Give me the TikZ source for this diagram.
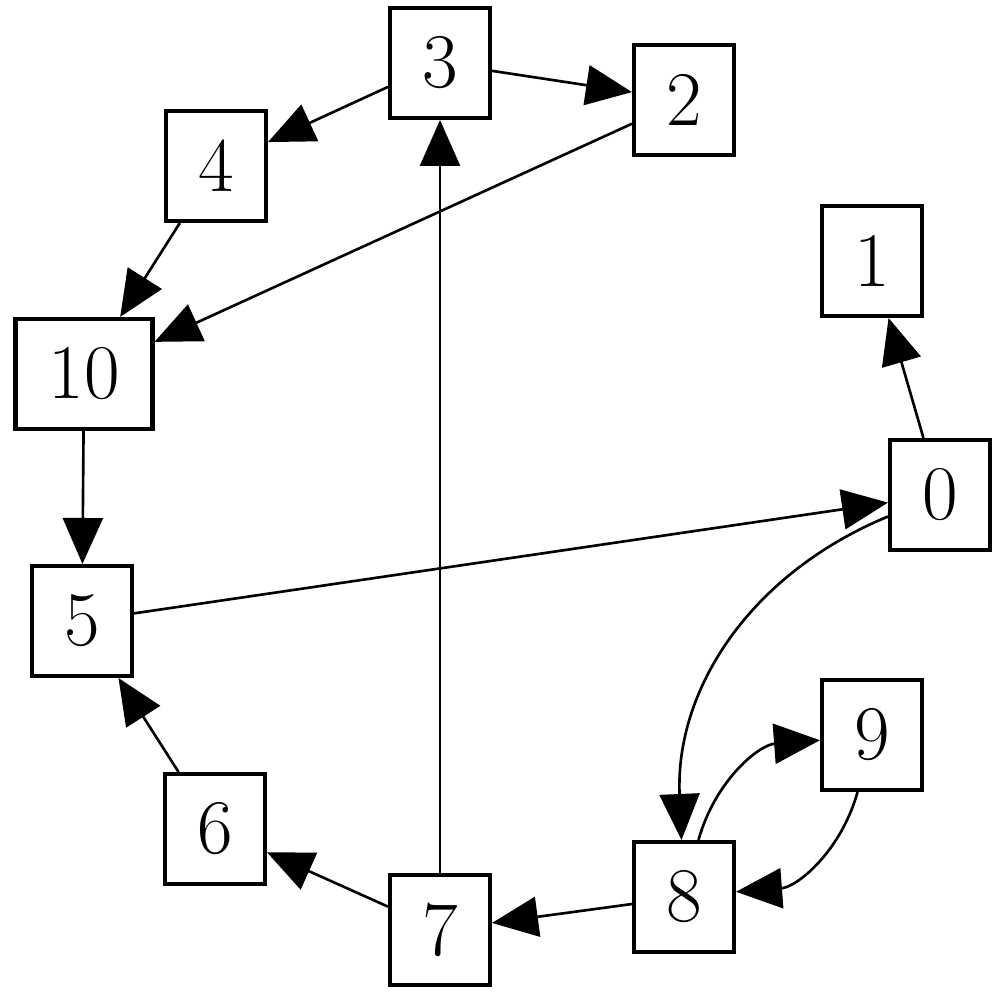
\documentclass[tikz,border=0pt]{standalone}
\usepackage{xcolor}
\usepackage{tikz}
\usetikzlibrary{arrows.meta,positioning}

\begin{document}
\begin{tikzpicture}[
    box/.style={draw, line width=1.15pt, minimum width=1cm, minimum height=1.1cm,
                inner sep=0pt, font=\fontsize{22}{26}\selectfont},
    edge/.style={line width=0.75pt, -{Triangle[length=4.6mm,width=4mm]}}
]
    \useasboundingbox (0,0) rectangle (10,10);

    % Nodes
    \node[box] (n3) at (4.40,9.37) {3};
    \node[box] (n2) at (6.84,9.00) {2};
    \node[box] (n4) at (2.16,8.34) {4};
    \node[box] (n1) at (8.72,7.39) {1};
    \node[box, minimum width=1.37cm] (n10) at (0.84,6.26) {10};
    \node[box] (n0) at (9.40,5.05) {0};
    \node[box] (n5) at (0.82,3.79) {5};
    \node[box] (n9) at (8.72,2.65) {9};
    \node[box] (n6) at (2.15,1.71) {6};
    \node[box] (n8) at (6.84,1.03) {8};
    \node[box] (n7) at (4.40,0.70) {7};

    % Edges
    \draw[edge] (n3) -- (n2);
    \draw[edge] (n3) -- (n4);
    \draw[edge] (n2) -- (n10);
    \draw[edge] (n4) -- (n10);
    \draw[edge] (n10) -- (n5);
    \draw[edge] (n5) -- (n0);
    \draw[edge] (n0) -- (n1);
    \draw[edge] (n0) to[bend right=35] (n8);
    \draw[edge] (n8) to[bend left=35] (n9);
    \draw[edge] (n9) to[bend left=35] (n8);
    \draw[edge] (n8) -- (n7);
    \draw[edge] (n7) -- (n6);
    \draw[edge] (n6) -- (n5);
    \draw[edge] (n7) -- (n3);
\end{tikzpicture}
\end{document}
